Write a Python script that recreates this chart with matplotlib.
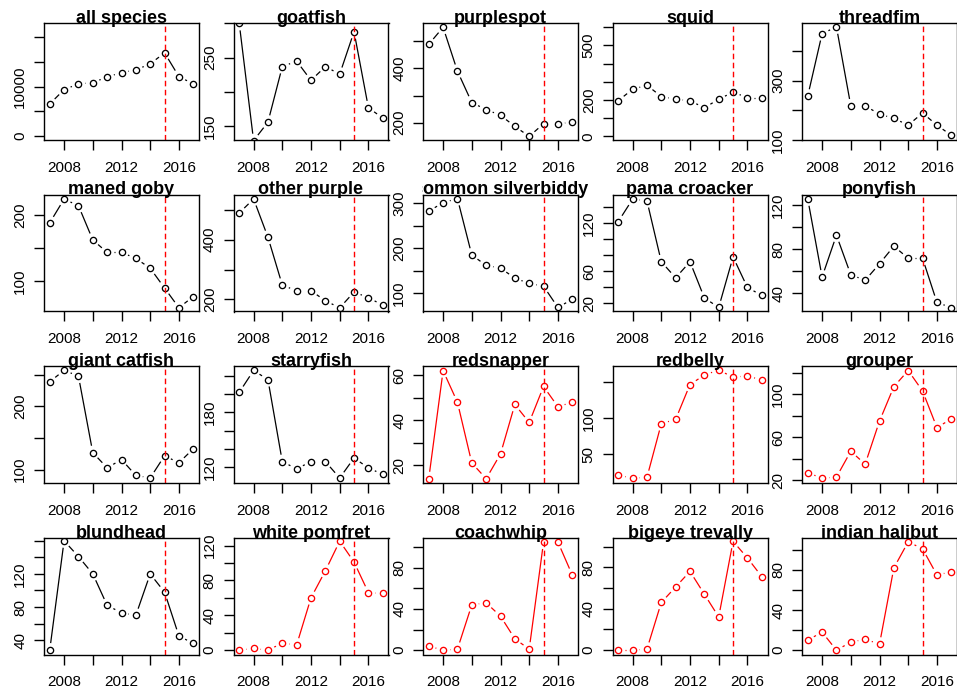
import numpy as np
import matplotlib
matplotlib.use("Agg")
import matplotlib.pyplot as plt
from matplotlib.transforms import Bbox, TransformedBbox

plt.rcParams['font.family'] = ['Liberation Sans', 'DejaVu Sans']

years = list(range(2007, 2018))
cut_year = 2015

species = ["all species", "goatfish", "purplespot", "squid", "threadfim",
           "maned goby", "other purple", "common silverbiddy", "pama croacker", "ponyfish",
           "giant catfish", "starryfish", "redsnapper", "redbelly", "grouper",
           "blundhead", "white pomfret", "coachwhip", "bigeye trevally", "indian halibut"]

all_species = [6490, 9400, 10550, 10800, 11960, 12840, 13380, 14600, 16830, 12030, 10550]
goatfish = [300, 129, 156, 237, 245, 217, 237, 226, 288, 177, 162]
purplespot = [489, 552, 390, 274, 248, 227, 186, 149, 196, 196, 201]
squid = [196, 259, 281, 219, 204, 196, 157, 204, 243, 213, 213]
threadfim = [248, 458, 481, 215, 215, 187, 173, 150, 191, 150, 116]
maned_goby = [188, 224, 214, 162, 143, 143, 134, 119, 89, 59, 76]
other_purple = [489, 536, 408, 248, 229, 229, 196, 172, 225, 206, 181]
common_silverbiddy = [282, 301, 310, 185, 162, 156, 134, 122, 116, 69, 87]
pama_croacker = [122, 150, 148, 72, 52, 72, 27, 15, 78, 40, 30]
ponyfish = [126, 55, 93, 57, 52, 67, 83, 72, 72, 32, 27]
giant_catfish = [239, 257, 248, 127, 103, 116, 91, 87, 122, 111, 133]
starryfish = [202, 226, 216, 126, 118, 126, 126, 108, 130, 119, 112]
redsnapper = [14, 62, 48, 21, 14, 25, 47, 39, 55, 46, 48]
redbelly = [21, 17, 18, 92, 98, 146, 159, 166, 156, 158, 152]
grouper = [27, 22, 23, 47, 35, 75, 107, 122, 103, 69, 77]
blundhead = [28, 160, 141, 120, 82, 73, 70, 120, 98, 45, 36]
white_pomfret = [0, 2, 0, 8, 6, 60, 91, 125, 101, 66, 65]
coachwhip = [4, 0, 1, 44, 46, 33, 11, 1, 105, 105, 73]
bigeye_trevally = [0, 0, 1, 46, 61, 76, 54, 32, 105, 89, 71]
indian_halibut = [10, 18, 0, 8, 11, 6, 82, 108, 101, 75, 78]

series = [all_species, goatfish, purplespot, squid, threadfim,
          maned_goby, other_purple, common_silverbiddy, pama_croacker, ponyfish,
          giant_catfish, starryfish, redsnapper, redbelly, grouper,
          blundhead, white_pomfret, coachwhip, bigeye_trevally, indian_halibut]

red_species = ["redsnapper", "redbelly", "grouper", "white pomfret",
               "coachwhip", "bigeye trevally", "indian halibut"]

# y-axis limits, ticks and the tick labels that are shown
ylims = [(-850, 22800), (129.5, 300.2), (134.6, 566.7), (-22, 622), (99, 493),
         (53.3, 231), (159.8, 550.8), (60, 319), (10, 155.8), (23.6, 130),
         (79, 263.9), (102.5, 230.9), (12.1, 64.1), (10.3, 171.5), (17.5, 126.2),
         (22.6, 164), (-5, 129.2), (-4.2, 109.4), (-4.2, 108.7), (-4.3, 112.3)]
yticks = [[0, 5000, 10000, 15000, 20000], [150, 200, 250, 300], [200, 300, 400, 500],
          [0, 100, 200, 300, 400, 500, 600], [100, 200, 300, 400],
          [100, 150, 200], [200, 300, 400, 500], [100, 150, 200, 250, 300],
          [20, 40, 60, 80, 100, 120, 140], [40, 60, 80, 100, 120],
          [100, 150, 200, 250], [120, 140, 160, 180, 200, 220], [20, 30, 40, 50, 60],
          [50, 100, 150], [20, 40, 60, 80, 100, 120],
          [40, 60, 80, 100, 120, 140, 160], [0, 20, 40, 60, 80, 100, 120],
          [0, 20, 40, 60, 80, 100], [0, 20, 40, 60, 80, 100], [0, 20, 40, 60, 80, 100]]
ylabels_shown = [[0, 10000], [150, 250], [200, 400], [0, 200, 500], [100, 300],
                 [100, 200], [200, 400], [100, 200, 300], [20, 60, 120], [40, 80, 120],
                 [100, 200], [120, 180], [20, 40, 60], [50, 100], [20, 60, 100],
                 [40, 80, 120], [0, 40, 80, 120], [0, 40, 80], [0, 40, 80], [0, 40, 80]]

xticks = [2008, 2010, 2012, 2014, 2016]
xlabels_shown = [2008, 2012, 2016]

W, H = 957, 694
fig = plt.figure(figsize=(W / 100, H / 100), dpi=100)

col_left = [44, 233.5, 423, 612.5, 802]
row_top = [23.3, 194.5, 366, 537.5]
bw, bh = 155, 117
gap_px = 7.0

for i, name in enumerate(species):
    r, c = divmod(i, 5)
    x0 = col_left[c]
    y0 = row_top[r]
    ax = fig.add_axes([x0 / W, 1 - (y0 + bh) / H, bw / W, bh / H])
    ax.set_xlim(2006.6, 2017.4)
    ax.set_ylim(*ylims[i])
    color = '#ff0000' if name in red_species else 'black'
    y = np.array(series[i], dtype=float)
    x = np.array(years, dtype=float)

    # type="b": segments with gaps around points
    pts = ax.transData.transform(np.column_stack([x, y]))
    inv = ax.transData.inverted()
    for k in range(len(x) - 1):
        p0, p1 = pts[k], pts[k + 1]
        d = p1 - p0
        L = np.hypot(*d)
        if L > 2 * gap_px:
            a = p0 + d / L * gap_px
            b = p1 - d / L * gap_px
            seg = inv.transform(np.array([a, b]))
            ax.plot(seg[:, 0], seg[:, 1], color=color, lw=0.9, solid_capstyle='butt')
    ax.plot(x, y, 'o', mfc='none', mec=color, ms=4.5, mew=0.95, ls='none')

    ax.axvline(cut_year, color='#ff0000', lw=1.0, ls=(0, (4, 2.5)))

    ax.set_xticks(xticks)
    ax.set_xticklabels([str(t) if t in xlabels_shown else '' for t in xticks])
    ax.set_yticks(yticks[i])
    ax.set_yticklabels([str(t) if t in ylabels_shown[i] else '' for t in yticks[i]],
                       rotation=90, va='center')
    ax.tick_params(axis='both', direction='out', length=7, width=1.0,
                   labelsize=11, colors='black')
    ax.tick_params(axis='x', pad=8)
    ax.tick_params(axis='y', pad=5)
    for sp in ax.spines.values():
        sp.set_linewidth(1.0)
        sp.set_color('black')

    t = ax.text(0.5, 1.0, name, transform=ax.transAxes, ha='center', va='baseline',
                fontsize=13, fontweight='bold', color='black', clip_on=True)
    clip = Bbox([[(x0 - 1) / W, 0], [(x0 + bw + 40) / W, 1]])
    t.set_clip_box(TransformedBbox(clip, fig.transFigure))

fig.savefig("out.png", dpi=100)
